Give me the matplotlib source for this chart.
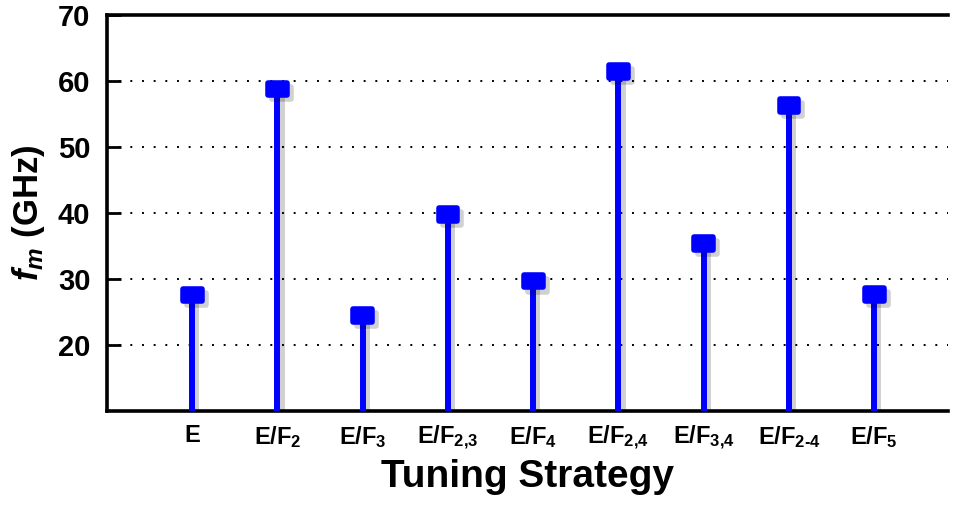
import matplotlib
matplotlib.use('Agg')
from matplotlib import pyplot as plt
from matplotlib.markers import MarkerStyle
from matplotlib.path import Path
import matplotlib.patheffects as pe

strategies = ['E', 'E/F$_2$', 'E/F$_3$', 'E/F$_{2{,}3}$', 'E/F$_4$',
              'E/F$_{2{,}4}$', 'E/F$_{3{,}4}$', 'E/F$_{2\u20114}$', 'E/F$_5$']
fm_ghz = [27.6, 58.8, 24.5, 39.8, 29.7, 61.4, 35.4, 56.3, 27.7]
y_ticks = [20, 30, 40, 50, 60, 70]

plt.rcParams['font.family'] = ['Liberation Sans Narrow', 'Liberation Sans', 'DejaVu Sans']
plt.rcParams['font.weight'] = 'bold'
plt.rcParams['mathtext.fontset'] = 'custom'
plt.rcParams['mathtext.rm'] = 'Liberation Sans:bold'
plt.rcParams['mathtext.it'] = 'Liberation Sans:italic:bold'
plt.rcParams['mathtext.bf'] = 'Liberation Sans:bold'

fig = plt.figure(figsize=(9.55, 5.14), dpi=100)
ax = fig.add_axes([0.112, 0.200, 0.881, 0.771])

x = list(range(1, len(fm_ghz) + 1))
ymin = 10

shadow = [pe.SimpleLineShadow(offset=(3, -3), alpha=0.18, shadow_color='k'), pe.Normal()]

# rounded, slightly wide box marker
box = Path([(-1, -0.68), (1, -0.68), (1, 0.68), (-1, 0.68), (-1, -0.68)],
           [Path.MOVETO, Path.LINETO, Path.LINETO, Path.LINETO, Path.CLOSEPOLY])
mk = MarkerStyle(box, joinstyle='round')

for xi, v in zip(x, fm_ghz):
    ax.plot([xi, xi], [ymin, v], color='#0000ff', lw=4.3, solid_capstyle='butt',
            path_effects=shadow, zorder=3)
ax.plot(x, fm_ghz, ls='none', marker=mk, ms=13.5, mfc='#0000ff', mec='#0000ff',
        mew=4, path_effects=shadow, zorder=4)

ax.set_xlim(0, 9.87)
ax.set_ylim(ymin, 70)
ax.set_yticks(y_ticks)
ax.set_xticks(x)
ax.set_xticklabels(strategies, fontsize=17, fontweight='bold')
ax.tick_params(axis='y', direction='in', length=10, width=2, labelsize=21, pad=12)
ax.tick_params(axis='x', length=0, pad=9)
for lab in ax.get_yticklabels():
    lab.set_fontweight('bold')

for yv in y_ticks[:-1]:
    ax.axhline(yv, color='k', lw=1.4, dashes=(1, 5), zorder=1)

ax.spines['right'].set_visible(False)
for s in ['left', 'bottom', 'top']:
    ax.spines[s].set_linewidth(2.6)

ax.set_xlabel('Tuning Strategy', fontsize=28, fontweight='bold', labelpad=5)
ax.set_ylabel('$\\mathit{f_m}$ (GHz)', fontsize=25, fontweight='bold', labelpad=8)

fig.savefig('out.png', dpi=100)
